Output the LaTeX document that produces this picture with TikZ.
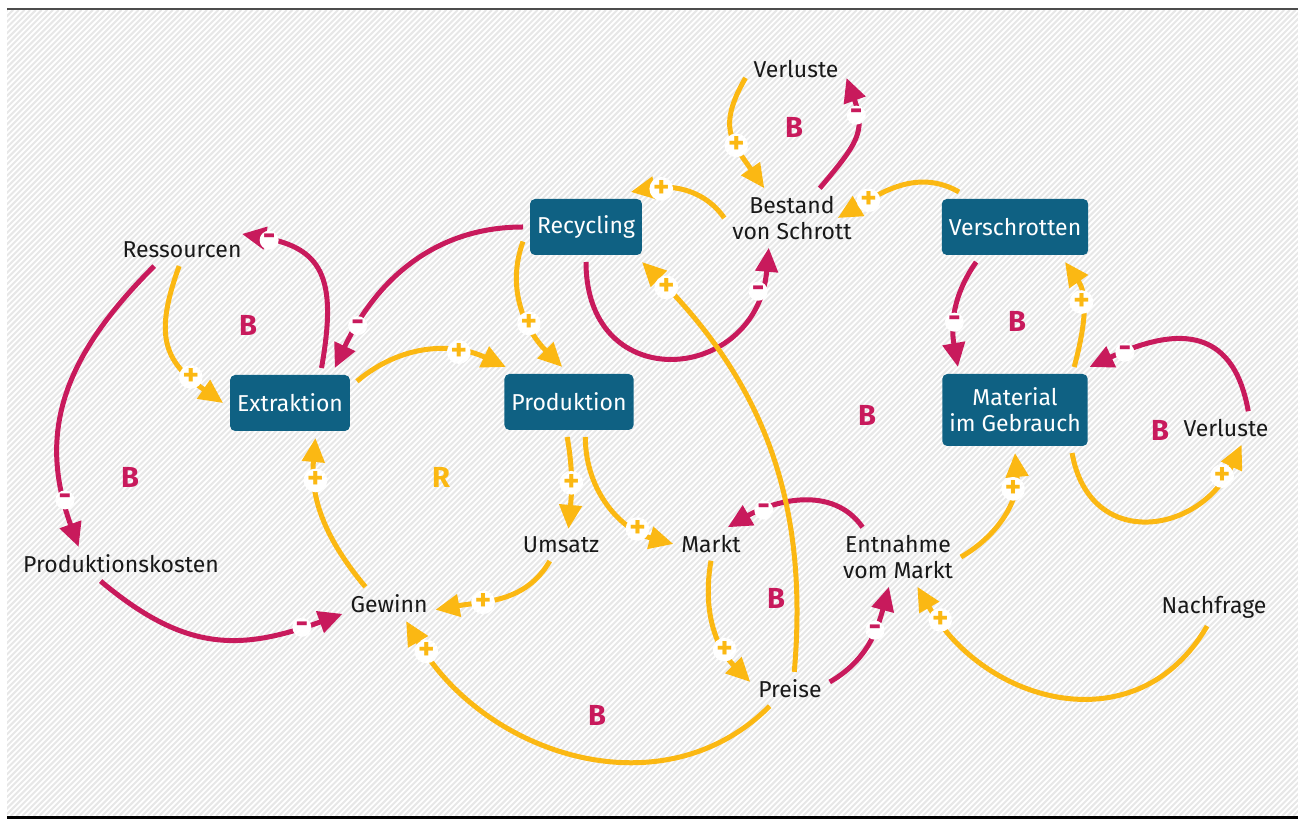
\documentclass[tikz,border=0pt]{standalone}
\usepackage{fontspec}
\setmainfont{Fira Sans}
\usetikzlibrary{arrows.meta}

\definecolor{boxblue}{HTML}{0F6183}
\definecolor{linkyellow}{HTML}{FBB813}
\definecolor{linkred}{HTML}{C81A5C}
\definecolor{hatchgray}{HTML}{E7E7E7}

\begin{document}
\begin{tikzpicture}[x=1pt, y=1pt,
		var/.style={font=\fontsize{23}{26}\selectfont, text=black!90, align=center, inner sep=5pt, outer sep=3pt},
		stock/.style={var, fill=boxblue, text=white, rounded corners=5pt, minimum height=56pt, inner xsep=7pt, outer sep=7pt},
		poslink/.style={draw=linkyellow, line width=5pt, -{Triangle[length=24pt,width=22pt]}},
		neglink/.style={poslink, draw=linkred},
		sgn/.style={circle, fill=white, inner sep=0pt, minimum size=19pt, font=\bfseries\fontsize{31}{31}\selectfont},
		psgn/.style={sgn, text=linkyellow},
		nsgn/.style={sgn, text=linkred},
		loopB/.style={font=\bfseries\fontsize{29}{29}\selectfont, text=linkred},
		loopR/.style={loopB, text=linkyellow}
		]
		\useasboundingbox (0,0) rectangle (1298,819);
		
		% ---- HINTERGRUND ----
		\begin{scope}
			\clip (7,3) rectangle (1298,809);
			\foreach \i in {0,...,375}
				\draw[hatchgray, line width=2pt] ({\i*5.7-810},3) -- ++(806,806);
		\end{scope}
		\draw[line width=2pt, black!70] (7,810) -- (1298,810);
		\draw[line width=3pt, black] (7,2) -- (1298,2);
		
		% ---- KNOTEN ----
		\node[var] (ress) at (182,569) {Ressourcen};
		\node[var] (pkost) at (121,255) {Produktionskosten};
		\node[var] (gewinn) at (389,215) {Gewinn};
		\node[var] (umsatz) at (561,274) {Umsatz};
		\node[var] (markt) at (711,275) {Markt};
		\node[var] (entn) at (898,262) {Entnahme\\vom Markt};
		\node[var] (preise) at (790,130) {Preise};
		\node[var] (nachf) at (1214,212) {Nachfrage};
		\node[var] (verlA) at (796,750) {Verluste};
		\node[var] (verlB) at (1226,391) {Verluste};
		\node[var] (bestand) at (792,601) {Bestand\\von Schrott};
		
		\node[stock] (extr) at (290,416) {Extraktion};
		\node[stock] (prod) at (569,417) {Produktion};
		\node[stock] (recy) at (586,592) {Recycling};
		\node[stock] (versch) at (1015,592) {Verschrotten};
		\node[stock, minimum height=72pt] (mat) at (1015,409) {Material\\im Gebrauch};
		
		% ---- SCHLEIFEN ----
		\node[loopB] (lp1) at (248,494) {B};
		\node[loopB] (lp2) at (130,342) {B};
		\node[loopR] (lp3) at (441,342) {R};
		\node[loopB] (lp4) at (794,692) {B};
		\node[loopB] (lp5) at (1017,498) {B};
		\node[loopB] (lp6) at (867,404) {B};
		\node[loopB] (lp7) at (1160,389) {B};
		\node[loopB] (lp8) at (776,221) {B};
		\node[loopB] (lp9) at (597,104) {B};
		
		% ---- KANTEN ----
		\draw[poslink] (ress.260) to[out=250,in=145,looseness=1.3] node[psgn,pos=.78] {+} (extr.180);
		\draw[neglink] (extr.48) to[out=80,in=-10,looseness=1.4] node[nsgn,pos=.88] {-} (ress.15);
		\draw[neglink] (ress.210) to[out=225,in=110,looseness=1.1] node[nsgn,pos=.86] {-} (pkost.158);
		\draw[neglink] (pkost.220) to[out=-40,in=200,looseness=1.15] node[nsgn,pos=.86] {-} (gewinn.192);
		\draw[poslink] (gewinn.144) to[out=130,in=-95] node[psgn,pos=.75] {+} (extr.-54);
		\draw[poslink] (extr.18) to[out=40,in=155] node[psgn,pos=.7] {+} (prod.151);
		\draw[neglink] (recy.180) to[out=180,in=65] node[nsgn,pos=.82] {-} (extr.38);
		\draw[poslink] (recy.193) to[out=250,in=135] node[psgn,pos=.62] {+} (prod.101);
		\draw[neglink] (recy.-90) to[out=-90,in=-95,looseness=1.9] node[nsgn,pos=.88] {-} (bestand.232);
		\draw[poslink] (bestand.180) to[out=125,in=10] node[psgn,pos=.72] {+} (recy.38);
		\draw[poslink] (verlA.190) to[out=240,in=125,looseness=1.3] node[psgn,pos=.62] {+} (bestand.133);
		\draw[neglink] (bestand.47) to[out=50,in=-70,looseness=1.3] node[nsgn,pos=.72] {-} (verlA.-10);
		\draw[poslink] (versch.148) to[out=150,in=30] node[psgn,pos=.75] {+} ([xshift=-22pt]bestand.east);
		\draw[neglink] (versch.222) to[out=235,in=100] node[nsgn,pos=.6] {-} (mat.143);
		\draw[poslink] (mat.36) to[out=75,in=-55] node[psgn,pos=.6] {+} (versch.-35);
		\draw[neglink] (verlB.37) to[out=100,in=25,looseness=1.4] node[nsgn,pos=.85] {-} (mat.30);
		\draw[poslink] (mat.-37) to[out=-80,in=-115,looseness=1.5] node[psgn,pos=.87] {+} (verlB.-47);
		\draw[poslink] (entn.0) to[out=30,in=-85] node[psgn,pos=.72] {+} (mat.-90);
		\draw[poslink] (nachf.250) to[out=240,in=-60,looseness=1.2] node[psgn,pos=.9] {+} (entn.-57);
		\draw[neglink] (entn.140) to[out=125,in=30] node[nsgn,pos=.75] {-} (markt.45);
		\draw[neglink] (preise.10) to[out=30,in=-105] node[nsgn,pos=.62] {-} (entn.253);
		\draw[poslink] (markt.-90) to[out=-100,in=135] node[psgn,pos=.7] {+} (preise.170);
		\draw[poslink] (preise.76) to[out=85,in=-45] node[psgn,pos=.93] {+} (recy.-32);
		\draw[poslink] (preise.220) to[out=225,in=-60,looseness=1.05] node[psgn,pos=.92] {+} (gewinn.-45);
		\draw[poslink] (prod.-93) to[out=-80,in=85] node[psgn,pos=.5] {+} (umsatz.65);
		\draw[poslink] (prod.-65) to[out=-90,in=165] node[psgn,pos=.75] {+} (markt.180);
		\draw[poslink] (umsatz.235) to[out=240,in=10] node[psgn,pos=.65] {+} (gewinn.-7);
		
	\end{tikzpicture}
\end{document}
